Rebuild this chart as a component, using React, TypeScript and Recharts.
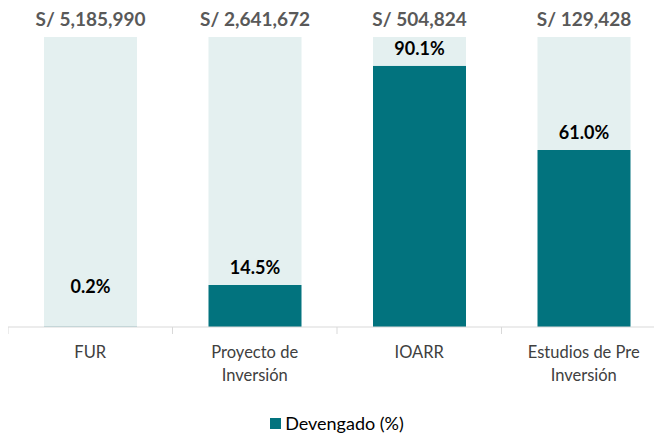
import React from 'react';
import { BarChart, Bar, XAxis, YAxis, LabelList, Legend } from 'recharts';

const categories = ['FUR', 'Proyecto de Inversión', 'IOARR', 'Estudios de Pre Inversión'];
const tickLines = [['FUR'], ['Proyecto de', 'Inversión'], ['IOARR'], ['Estudios de Pre', 'Inversión']];
const devengado = [0.2, 14.5, 90.1, 61.0];
const montos = [5185990, 2641672, 504824, 129428];

const TEAL = '#02737E';
const LIGHT = '#E4F0F0';
const FONT = 'Lato, "Open Sans", sans-serif';

const CHART_W = 658;
const CHART_H = 430;
const BAND = CHART_W / categories.length;

const data = categories.map((name, i) => ({
  name,
  devengado: devengado[i],
  resto: 100 - devengado[i],
  monto: montos[i],
}));

const fmtMonto = (v: number) => 'S/ ' + v.toLocaleString('en-US');

const CategoryTick = ({ x, y, index }: any) => {
  const lines = tickLines[index] || [];
  const left = x - BAND / 2;
  return (
    <g>
      <line x1={left} y1={y} x2={left} y2={y + 7} stroke="#d9d9d9" />
      {index === categories.length - 1 && (
        <line x1={x + BAND / 2} y1={y} x2={x + BAND / 2} y2={y + 7} stroke="#d9d9d9" />
      )}
      {lines.map((t, i) => (
        <text
          key={i}
          x={x}
          y={y + 25 + i * 23}
          textAnchor="middle"
          dominantBaseline="central"
          fill="#404040"
          fontSize={16.5}
          fontFamily={FONT}
        >
          {t}
        </text>
      ))}
    </g>
  );
};

const PctLabel = (props: any) => {
  const { x, y, width, height, value } = props;
  const cy = Math.min(y - 18, y + height - 41);
  return (
    <text
      x={x + width / 2}
      y={cy}
      textAnchor="middle"
      dominantBaseline="central"
      fill="#000"
      fontWeight={700}
      fontSize={18}
      fontFamily={FONT}
    >
      {Number(value).toFixed(1)}%
    </text>
  );
};

const MontoLabel = (props: any) => {
  const { x, y, width, index } = props;
  return (
    <text
      x={x + width / 2}
      y={y - 19}
      textAnchor="middle"
      dominantBaseline="central"
      fill="#595959"
      fontWeight={700}
      fontSize={19}
      fontFamily={FONT}
    >
      {fmtMonto(montos[index])}
    </text>
  );
};

const LegendContent = () => (
  <div
    style={{
      height: 41,
      paddingTop: 16,
      boxSizing: 'border-box',
      display: 'flex',
      justifyContent: 'center',
      alignItems: 'flex-start',
      fontFamily: FONT,
      fontSize: 18,
      color: '#000',
      lineHeight: '20px',
    }}
  >
    <span style={{ display: 'inline-block', width: 11, height: 11, background: TEAL, marginTop: 5, marginRight: 4 }} />
    <span>Devengado (%)</span>
  </div>
);

export default function App() {
  return (
    <div style={{ width: 654, height: CHART_H, overflow: 'hidden' }}>
      <BarChart
        width={CHART_W}
        height={CHART_H}
        data={data}
        margin={{ top: 29, right: 0, left: 0, bottom: 0 }}
      >
        <XAxis
          dataKey="name"
          axisLine={{ stroke: '#d9d9d9' }}
          tickLine={false}
          tickSize={0}
          tickMargin={0}
          interval={0}
          height={70}
          tick={<CategoryTick />}
        />
        <YAxis hide domain={[0, 100]} />
        <Legend verticalAlign="bottom" content={<LegendContent />} />
        <Bar dataKey="devengado" stackId="a" fill={TEAL} barSize={93} isAnimationActive={false}>
          <LabelList dataKey="devengado" content={<PctLabel />} />
        </Bar>
        <Bar dataKey="resto" stackId="a" fill={LIGHT} barSize={93} isAnimationActive={false} legendType="none">
          <LabelList dataKey="monto" content={<MontoLabel />} />
        </Bar>
      </BarChart>
    </div>
  );
}
